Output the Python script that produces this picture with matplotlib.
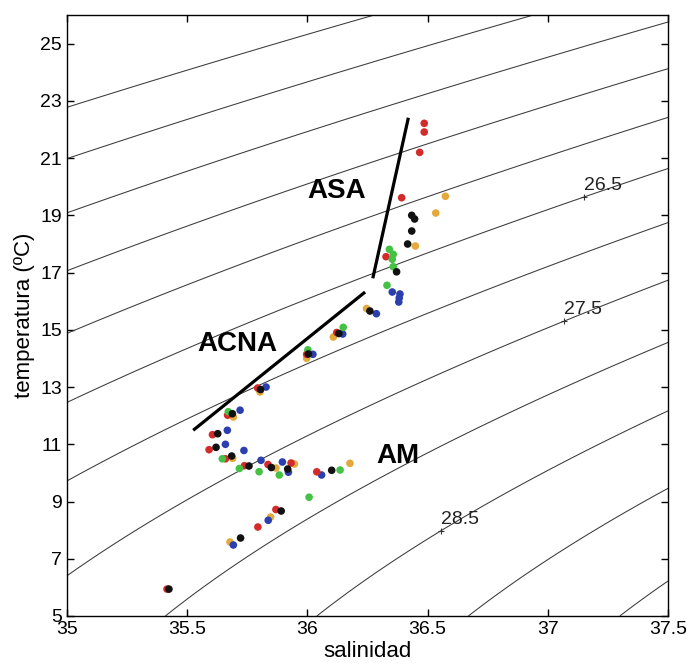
import numpy as np
import matplotlib
matplotlib.use("Agg")
import matplotlib.pyplot as plt

plt.rcParams['font.family'] = ['Liberation Sans', 'DejaVu Sans']

# ---------------- data ----------------
red_S = [36.486, 36.486, 36.467, 36.392, 36.327, 36.122, 35.997, 35.793, 35.668, 35.605,
         35.591, 35.659, 35.738, 35.836, 35.932, 36.039, 35.869, 35.794, 35.416]
red_T = [22.215, 21.911, 21.20, 19.616, 17.554, 14.906, 14.144, 12.966, 12.016, 11.335,
         10.811, 10.493, 10.252, 10.293, 10.346, 10.038, 8.721, 8.110, 5.94]

orange_S = [36.574, 36.534, 36.449, 36.246, 36.108, 35.997, 35.803, 35.692, 35.689, 35.869,
            35.946, 36.177, 35.847, 35.678]
orange_T = [19.665, 19.081, 17.928, 15.744, 14.748, 14.004, 12.827, 11.953, 10.51, 10.171,
            10.311, 10.335, 8.459, 7.586]

blue_S = [36.353, 36.385, 36.382, 36.380, 36.287, 36.147, 36.023, 35.828, 35.720, 35.667,
          35.659, 35.736, 35.807, 35.896, 35.921, 36.059, 35.837, 35.692]
blue_T = [16.321, 16.251, 16.111, 15.971, 15.563, 14.853, 14.144, 13.001, 12.191, 11.489,
          10.999, 10.783, 10.440, 10.381, 10.024, 9.927, 8.344, 7.481]

green_S = [36.341, 36.357, 36.353, 36.357, 36.331, 36.149, 36.002, 35.671, 35.646, 35.717,
           35.799, 35.883, 36.136, 36.007]
green_T = [17.813, 17.638, 17.463, 17.205, 16.555, 15.087, 14.301, 12.138, 10.493, 10.154,
           10.042, 9.927, 10.101, 9.151]

black_S = [36.434, 36.446, 36.434, 36.417, 36.371, 36.260, 36.131, 36.004, 35.805, 35.688,
           35.627, 35.620, 35.685, 35.757, 35.850, 35.918, 36.101, 35.891, 35.722, 35.424]
black_T = [19.0, 18.872, 18.452, 17.998, 17.026, 15.657, 14.871, 14.155, 12.914, 12.068,
           11.37, 10.894, 10.59, 10.241, 10.189, 10.136, 10.091, 8.669, 7.725, 5.94]

# water mass lines
asa_S = [36.420, 36.272]
asa_T = [22.41, 16.80]
acna_S = [35.525, 36.240]
acna_T = [11.49, 16.32]

mass_names = ['ASA', 'ACNA', 'AM']
mass_S = [36.122, 35.709, 36.377]
mass_T = [19.85, 14.52, 10.59]

sigma_levels = np.arange(24.0, 30.01, 0.5)
label_levels = [26.5, 27.5, 28.5]
label_S = [37.151, 37.069, 36.554]

x_ticks = [35, 35.5, 36, 36.5, 37, 37.5]
x_ticklabels = ['35', '35.5', '36', '36.5', '37', '37.5']
y_ticks = [5, 7, 9, 11, 13, 15, 17, 19, 21, 23, 25]


# ---------------- density (UNESCO EOS-80, p=0) ----------------
def sigma0(S, T):
    S = np.asarray(S, float)
    T = np.asarray(T, float)
    rw = (999.842594 + 6.793952e-2 * T - 9.095290e-3 * T**2 + 1.001685e-4 * T**3
          - 1.120083e-6 * T**4 + 6.536332e-9 * T**5)
    A = 8.24493e-1 - 4.0899e-3 * T + 7.6438e-5 * T**2 - 8.2467e-7 * T**3 + 5.3875e-9 * T**4
    B = -5.72466e-3 + 1.0227e-4 * T - 1.6546e-6 * T**2
    C = 4.8314e-4
    return rw + A * S + B * S**1.5 + C * S**2 - 1000.0


def temp_on_level(S, level):
    lo, hi = -2.0, 40.0
    for _ in range(60):
        mid = 0.5 * (lo + hi)
        if sigma0(S, mid) > level:
            lo = mid
        else:
            hi = mid
    return 0.5 * (lo + hi)


# ---------------- figure ----------------
fig = plt.figure(figsize=(6.91, 6.65), dpi=100)
ax = fig.add_axes([67 / 691, (665 - 616) / 665, 601 / 691, 601 / 665])

Sg, Tg = np.meshgrid(np.linspace(35, 37.5, 300), np.linspace(5, 26, 300))
ax.contour(Sg, Tg, sigma0(Sg, Tg), levels=sigma_levels, colors='#3a3a3a', linewidths=0.75)

for lev, s in zip(label_levels, label_S):
    t = temp_on_level(s, lev)
    ax.plot([s], [t], marker='+', color='#333333', markersize=5, markeredgewidth=0.8)
    ax.annotate(f'{lev:g}', (s, t), xytext=(0, 2), textcoords='offset points',
                fontsize=14, color='#222222', ha='left', va='bottom')

ax.plot(asa_S, asa_T, color='black', linewidth=2.3, solid_capstyle='butt')
ax.plot(acna_S, acna_T, color='black', linewidth=2.3, solid_capstyle='butt')

for name, s, t in zip(mass_names, mass_S, mass_T):
    ax.text(s, t, name, fontsize=20, fontweight='bold', ha='center', va='center')

ms = 30
ax.scatter(orange_S, orange_T, s=ms, color='#e3a93a', edgecolors='none', zorder=3)
ax.scatter(blue_S, blue_T, s=ms, color='#2b3fae', edgecolors='none', zorder=3)
ax.scatter(red_S, red_T, s=ms, color='#d42a2a', edgecolors='none', zorder=3)
ax.scatter(green_S, green_T, s=ms, color='#45c245', edgecolors='none', zorder=3)
ax.scatter(black_S, black_T, s=ms, color='#111111', edgecolors='none', zorder=3)

ax.set_xlim(35, 37.5)
ax.set_ylim(5, 26)
ax.set_xticks(x_ticks)
ax.set_xticklabels(x_ticklabels)
ax.set_yticks(y_ticks)
ax.tick_params(direction='in', length=5, width=1, top=True, right=True, labelsize=14)
for sp in ax.spines.values():
    sp.set_linewidth(1.0)
ax.set_xlabel('salinidad', fontsize=16, labelpad=2)
ax.set_ylabel('temperatura (ºC)', fontsize=16, labelpad=4)

fig.savefig('out.png', dpi=100)
